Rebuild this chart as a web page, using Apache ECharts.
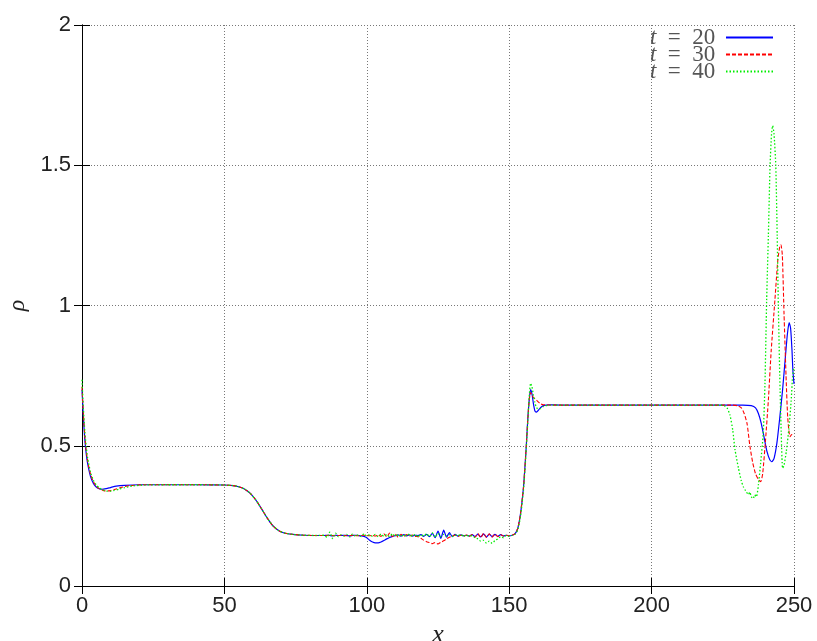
<!DOCTYPE html>
<html>
<head>
<meta charset="utf-8">
<script src="https://cdn.jsdelivr.net/npm/echarts@6/dist/echarts.min.js"></script>
<style>
  html, body { margin: 0; padding: 0; background: #fff; }
  #chart { width: 817px; height: 641px; }
</style>
</head>
<body>
<div id="chart"></div>
<script>
// Density profiles rho(x) at three times.
const xTicks = [0, 50, 100, 150, 200, 250];
const yTicks = [0, 0.5, 1, 1.5, 2];
const seriesNames = ['t = 20', 't = 30', 't = 40'];

const rhoT20 = [
  [0,0.70],[0.5,0.60],[1,0.52],[1.5,0.47],[2,0.435],[3,0.39],[4,0.366],[5,0.353],[6,0.347],[7,0.345],[8,0.346],
  [10,0.351],[12,0.356],[15,0.359],[20,0.361],[30,0.361],[40,0.361],[50,0.360],[53,0.358],[55,0.354],[57,0.346],
  [59,0.331],[61,0.307],[62,0.292],[63,0.276],[65,0.243],[67,0.215],[69,0.198],[71,0.189],[74,0.184],[78,0.181],[82,0.180],
  [85,0.180],[86,0.181],[87,0.180],[88,0.179],[89,0.181],[90,0.180],[91,0.180],[92,0.181],[93,0.180],[94,0.179],
  [95,0.180],[96,0.181],[97,0.180],[98,0.179],[99,0.177],[100,0.172],[101,0.163],[102,0.157],[103,0.154],[104,0.154],
  [105,0.157],[106,0.162],[107,0.168],[108,0.173],[109,0.177],[110,0.179],[111,0.182],[112,0.178],[113,0.183],[114,0.179],
  [115,0.182],[116,0.178],[117,0.181],[118,0.180],[119,0.183],[120,0.177],[121,0.184],[122,0.176],[123,0.188],[124,0.172],
  [125,0.196],[126,0.170],[127,0.199],[128,0.174],[129,0.190],[130,0.176],[131,0.184],[132,0.178],[133,0.182],[134,0.179],
  [135,0.181],[136,0.178],[137,0.183],[138,0.176],[139,0.185],[140,0.175],[141,0.186],[142,0.174],[143,0.185],[144,0.176],
  [145,0.184],[146,0.177],[147,0.183],[148,0.178],[149,0.181],[150,0.179],
  [151,0.181],[152,0.186],[153,0.205],[154,0.26],[155,0.35],[155.5,0.42],[156,0.50],[156.5,0.59],[157,0.66],[157.5,0.70],
  [158,0.685],[158.5,0.65],[159,0.625],[159.5,0.62],[160,0.624],[161,0.636],[162,0.643],[164,0.646],[168,0.645],
  [180,0.645],[200,0.645],[220,0.645],[232,0.645],[235,0.643],[236.5,0.635],[237.5,0.615],[238.5,0.58],[239.5,0.53],
  [240.5,0.48],[241.5,0.45],[242.2,0.443],[243,0.455],[244,0.51],[245,0.60],[246,0.70],[247,0.82],[247.7,0.90],
  [248.3,0.939],[248.8,0.92],[249.3,0.84],[249.6,0.77],[250,0.72]
];

const rhoT30 = [
  [0,0.71],[0.5,0.61],[1,0.535],[1.5,0.48],[2,0.445],[3,0.398],[4,0.372],[5,0.356],[6,0.347],[7,0.342],[8,0.339],
  [9,0.339],[10,0.340],[12,0.346],[14,0.352],[17,0.358],[22,0.361],[30,0.361],[40,0.361],[50,0.360],[53,0.358],
  [55,0.354],[57,0.346],[59,0.331],[61,0.307],[62,0.292],[63,0.276],[65,0.243],[67,0.215],[69,0.198],[71,0.189],
  [74,0.184],[78,0.181],[82,0.180],
  [85,0.180],[86,0.180],[87,0.181],[88,0.180],[89,0.179],[90,0.180],[91,0.181],[92,0.180],[93,0.179],[94,0.180],
  [95,0.181],[96,0.180],[97,0.179],[98,0.180],[99,0.181],[100,0.180],[101,0.179],[102,0.181],[103,0.178],[104,0.182],
  [105,0.177],[106,0.186],[107,0.175],[108,0.189],[109,0.176],[110,0.185],[111,0.174],[112,0.184],[113,0.177],[114,0.183],
  [115,0.178],[116,0.182],[117,0.177],[118,0.176],[119,0.170],[120,0.163],[121,0.158],[122,0.155],[123,0.151],[124,0.155],
  [125,0.150],[126,0.156],[127,0.161],[128,0.168],[129,0.174],[130,0.178],[131,0.182],[132,0.177],[133,0.181],[134,0.178],
  [135,0.182],[136,0.177],[137,0.183],[138,0.174],[139,0.187],[140,0.172],[141,0.188],[142,0.173],[143,0.186],[144,0.174],
  [145,0.185],[146,0.176],[147,0.183],[148,0.178],[149,0.181],[150,0.179],
  [151,0.181],[152,0.186],[153,0.205],[154,0.26],[155,0.35],[155.5,0.42],[156,0.50],[156.5,0.59],[157,0.66],[157.5,0.69],
  [158,0.68],[158.5,0.672],[159,0.668],[159.5,0.664],[160,0.658],[161,0.650],[162,0.646],[165,0.645],[180,0.645],
  [200,0.645],[220,0.645],[228,0.645],[230,0.643],[231.5,0.635],[232.5,0.615],[233.5,0.58],[234.5,0.50],[235.5,0.44],
  [236.5,0.40],[237.5,0.38],[238.3,0.372],[239,0.40],[240,0.52],[241,0.663],[242,0.84],[243.3,1.02],[244.3,1.16],
  [245,1.21],[245.4,1.216],[245.9,1.18],[246.5,0.97],[247.2,0.75],[247.8,0.60],[248.6,0.532],[249.2,0.54],[250,0.54]
];

const rhoT40 = [
  [0,0.735],[0.5,0.63],[1,0.55],[1.5,0.495],[2,0.455],[3,0.405],[4,0.377],[5,0.36],[6,0.35],[7,0.344],[8,0.340],
  [9,0.338],[10,0.338],[11,0.34],[13,0.345],[15,0.351],[18,0.357],[22,0.360],[30,0.361],[40,0.361],[50,0.360],
  [53,0.358],[55,0.354],[57,0.346],[59,0.331],[61,0.307],[62,0.292],[63,0.276],[65,0.243],[67,0.215],[69,0.198],
  [71,0.189],[74,0.184],[78,0.181],[82,0.180],
  [85,0.181],[86,0.173],[87,0.192],[88,0.169],[89,0.188],[90,0.176],[91,0.183],[92,0.178],[93,0.184],[94,0.175],
  [95,0.186],[96,0.177],[97,0.182],[98,0.176],[99,0.186],[100,0.178],[101,0.183],[102,0.177],[103,0.184],[104,0.176],
  [105,0.185],[106,0.177],[107,0.183],[108,0.176],[109,0.186],[110,0.178],[111,0.184],[112,0.176],[113,0.183],[114,0.178],
  [115,0.185],[116,0.177],[117,0.184],[118,0.175],[119,0.183],[120,0.178],[121,0.186],[122,0.176],[123,0.189],[124,0.174],
  [125,0.188],[126,0.176],[127,0.184],[128,0.178],[129,0.183],[130,0.177],[131,0.182],[132,0.179],[133,0.184],[134,0.176],
  [135,0.182],[136,0.177],[137,0.180],[138,0.172],[139,0.168],[140,0.160],[141,0.163],[142,0.153],[143,0.160],[144,0.152],
  [145,0.162],[146,0.168],[147,0.176],[148,0.172],[149,0.181],[150,0.177],
  [151,0.180],[152,0.184],[153,0.20],[154,0.25],[155,0.34],[155.5,0.41],[156,0.49],[156.5,0.58],[157,0.67],[157.5,0.723],
  [158,0.71],[158.5,0.68],[159,0.655],[159.5,0.638],[160,0.632],[161,0.632],[162,0.64],[164,0.645],[180,0.645],
  [200,0.645],[220,0.645],[224,0.645],[225.5,0.643],[226.5,0.635],[227.5,0.61],[228.5,0.555],[229.3,0.485],[230.5,0.42],
  [231.5,0.375],[232.2,0.354],[233,0.34],[234,0.326],[234.5,0.335],[235,0.318],[235.7,0.312],[236.2,0.325],[236.8,0.318],
  [237.5,0.36],[238.3,0.44],[239.2,0.544],[239.8,0.72],[240.4,1.02],[241,1.25],[241.6,1.5],[242.1,1.61],[242.5,1.641],
  [243,1.61],[243.6,1.5],[244.1,1.25],[244.5,1.0],[245,0.75],[245.5,0.55],[246,0.42],[246.5,0.43],[247.3,0.48],
  [248.2,0.56],[249,0.66],[249.5,0.746],[250,0.78]
];

const chart = echarts.init(document.getElementById('chart'), null, { renderer: 'canvas' });

const tickFont = { fontFamily: 'Liberation Sans', fontSize: 22, color: '#222' };

function lineSeries(name, data, color, type, width) {
  return {
    name, type: 'line', data,
    xAxisIndex: 0, yAxisIndex: 0,
    symbol: 'none', smooth: 0.2, animation: false,
    lineStyle: { color, width, type },
    itemStyle: { color }
  };
}

chart.setOption({
  animation: false,
  backgroundColor: '#fff',
  grid: { left: 82, right: 23, top: 25, bottom: 55, containLabel: false, outerBoundsMode: 'none' },
  legend: {
    orient: 'vertical', right: 38, top: 21, align: 'right',
    itemWidth: 47, itemHeight: 10, itemGap: -6,
    itemStyle: { opacity: 0 },
    data: seriesNames,
    formatter: n => '{t|t}  =  ' + n.split('= ')[1] + ' ',
    textStyle: {
      fontFamily: 'Liberation Serif', fontSize: 23, color: '#555',
      rich: { t: { fontFamily: 'Liberation Serif', fontStyle: 'italic', fontSize: 23, color: '#555' } }
    }
  },
  xAxis: [{
    type: 'value', min: xTicks[0], max: xTicks[xTicks.length - 1], interval: 50,
    name: 'x', nameLocation: 'middle', nameGap: 29,
    nameTextStyle: { fontFamily: 'Liberation Serif', fontStyle: 'italic', fontSize: 26, color: '#222' },
    axisLine: { show: true, lineStyle: { color: '#000', width: 1 } },
    axisTick: { show: true, inside: true, length: 8, lineStyle: { color: '#000' } },
    axisLabel: Object.assign({ margin: 9 }, tickFont),
    splitLine: { show: true, lineStyle: { color: '#777', width: 1, type: [1, 2] } }
  }, {
    type: 'value', position: 'top', min: 0, max: 250, interval: 50,
    axisLine: { show: true, lineStyle: { color: '#000', width: 1 } },
    axisTick: { show: true, inside: true, length: 8, lineStyle: { color: '#000' } },
    axisLabel: { show: false }, splitLine: { show: false }
  }],
  yAxis: [{
    type: 'value', min: yTicks[0], max: yTicks[yTicks.length - 1], interval: 0.5,
    name: 'ρ', nameLocation: 'middle', nameGap: 48, nameRotate: 90,
    nameTextStyle: { fontFamily: 'Liberation Serif', fontStyle: 'italic', fontSize: 24, color: '#222' },
    axisLine: { show: true, lineStyle: { color: '#000', width: 1 } },
    axisTick: { show: true, inside: true, length: 8, lineStyle: { color: '#000' } },
    axisLabel: Object.assign({ margin: 11 }, tickFont),
    splitLine: { show: true, lineStyle: { color: '#777', width: 1, type: [1, 2] } }
  }, {
    type: 'value', position: 'right', min: 0, max: 2, interval: 0.5,
    axisLine: { show: true, lineStyle: { color: '#000', width: 1 } },
    axisTick: { show: true, inside: true, length: 8, lineStyle: { color: '#000' } },
    axisLabel: { show: false }, splitLine: { show: false }
  }],
  series: [
    lineSeries(seriesNames[0], rhoT20, '#0000ff', 'solid', 1.2),
    lineSeries(seriesNames[1], rhoT30, '#ff0000', [4, 2], 1.1),
    lineSeries(seriesNames[2], rhoT40, '#00ee00', [1.5, 2], 1.3)
  ]
});
</script>
</body>
</html>
